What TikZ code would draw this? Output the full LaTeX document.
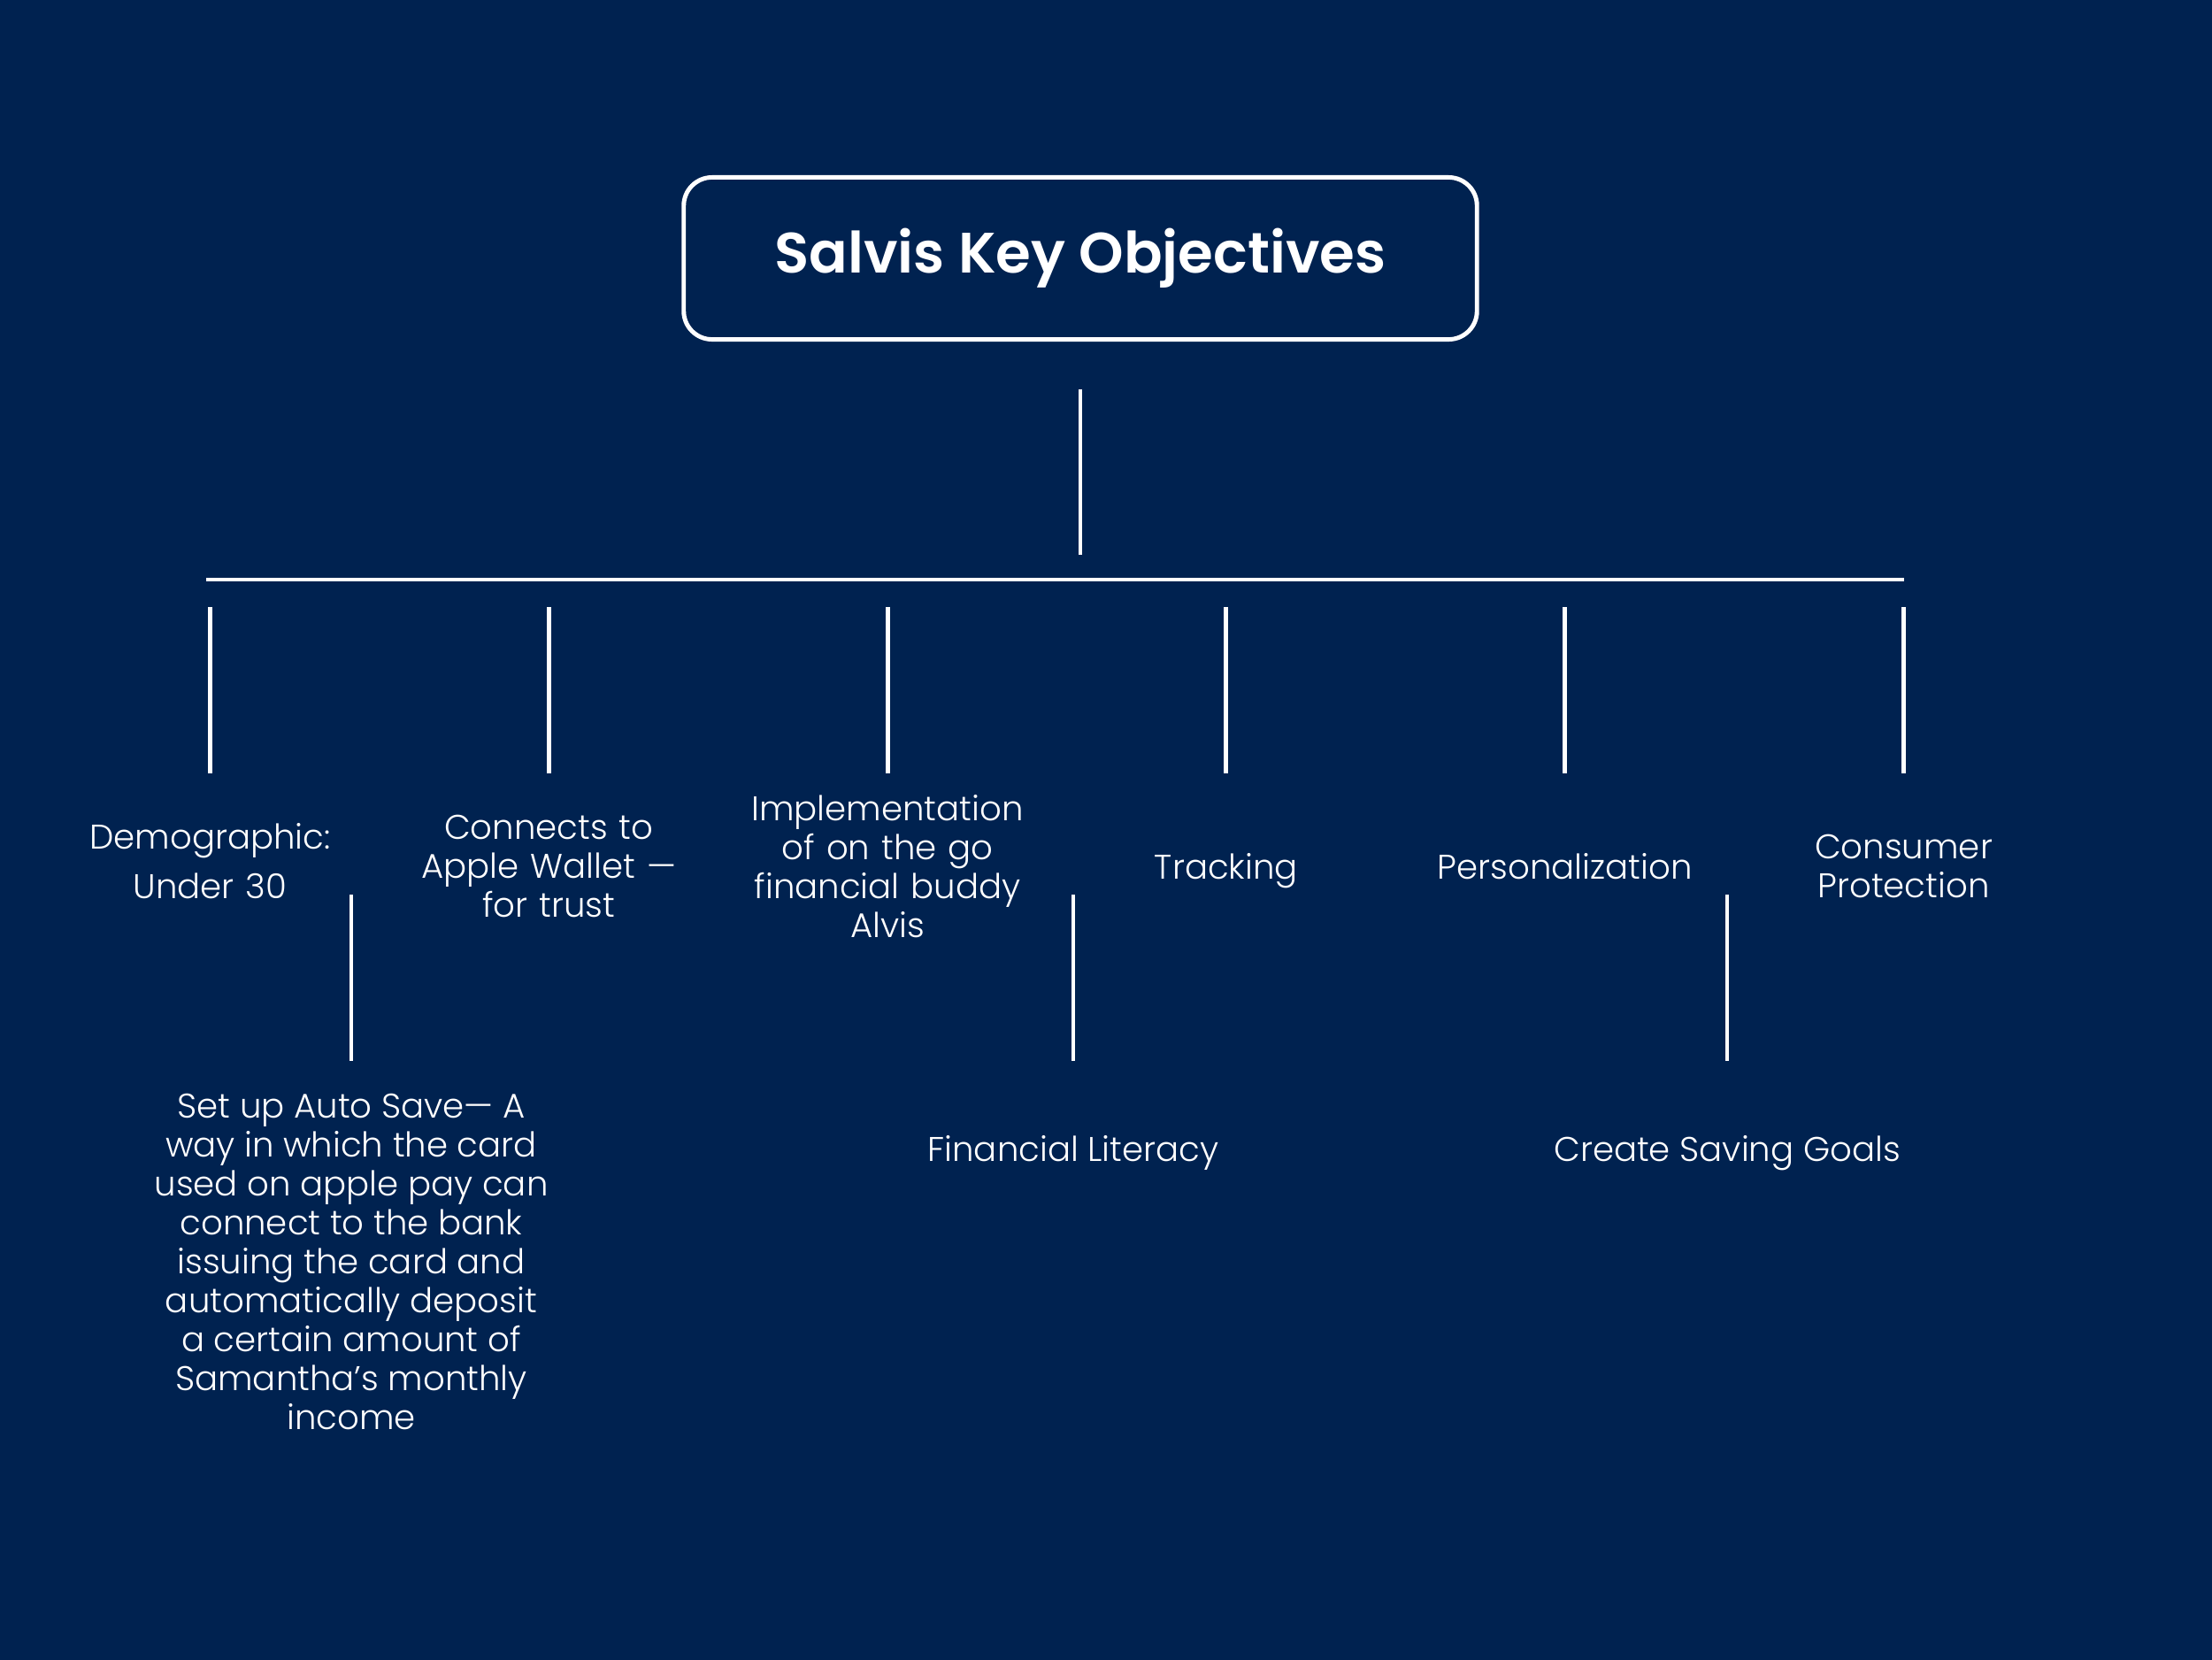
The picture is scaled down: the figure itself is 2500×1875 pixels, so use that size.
\documentclass[tikz,border=0pt]{standalone}
\usepackage{fontspec}
\setmainfont{Poppins}[UprightFont=* Light, BoldFont=* SemiBold]
\usepackage{tikz}
\usetikzlibrary{matrix}
\definecolor{salvisnavy}{RGB}{0,34,80}

\begin{document}
\begin{tikzpicture}[x=0.01cm, y=-0.01cm,
  line/.style={draw=white, line width=1.4pt},
  lbl/.style={text=white, font=\fontsize{11}{12.5}\selectfont, align=center, inner sep=0pt}]
  \useasboundingbox (0,0) rectangle (2500,1875);
  \fill[salvisnavy] (-10,-10) rectangle (2510,1885);
  \node (title) [draw=white, line width=1.4pt, rounded corners=0.32cm, minimum width=8.96cm, minimum height=1.83cm, text=white, font=\fontsize{18.3}{22}\selectfont\bfseries] at (1221,292) {Salvis Key Objectives};
  \matrix (m) [matrix of nodes, column sep=0.526cm, nodes={lbl, text width=3.3cm, anchor=center}] at (1194.5,979)
  {
 |[yshift=1.8pt]| {Demographic:\\[3.4pt] Under 30} & {Connects to\\ Apple Wallet —\\ for trust} & {Implementation\\ of on the go\\ financial buddy\\ Alvis} & |[yshift=-1.4pt]| Tracking & Personalization & {Consumer\\ Protection} \\
};
  \node (save) [lbl] at (397,1426) {Set up Auto Save— A\\ way in which the card\\ used on apple pay can\\ connect to the bank\\ issuing the card and\\ automatically deposit\\ a certain amount of\\ Samantha’s monthly\\ income};
  \node (lit) [lbl] at (1213,1303) {Financial Literacy};
  \node (goals) [lbl] at (1952,1303) {Create Saving Goals};

  \coordinate (r1) at (1221,440);
  \coordinate (r2) at (1221,627);
  \coordinate (busl) at (233,655);
  \coordinate (busr) at (2152,655);
  \coordinate (d1) at (0,686);
  \coordinate (d2) at (0,874);
  \coordinate (b1) at (0,1011);
  \coordinate (b2) at (0,1199);

  \path[line]
  (title |- r1) edge (title |- r2)
  (busl) edge (busr)
  (save |- b1) edge (save |- b2)
  (lit |- b1) edge (lit |- b2)
  (goals |- b1) edge (goals |- b2)
  ;
  \foreach \i in {1,...,6}
    \path[line] (m-1-\i |- d1) edge (m-1-\i |- d2);
\end{tikzpicture}
\end{document}
